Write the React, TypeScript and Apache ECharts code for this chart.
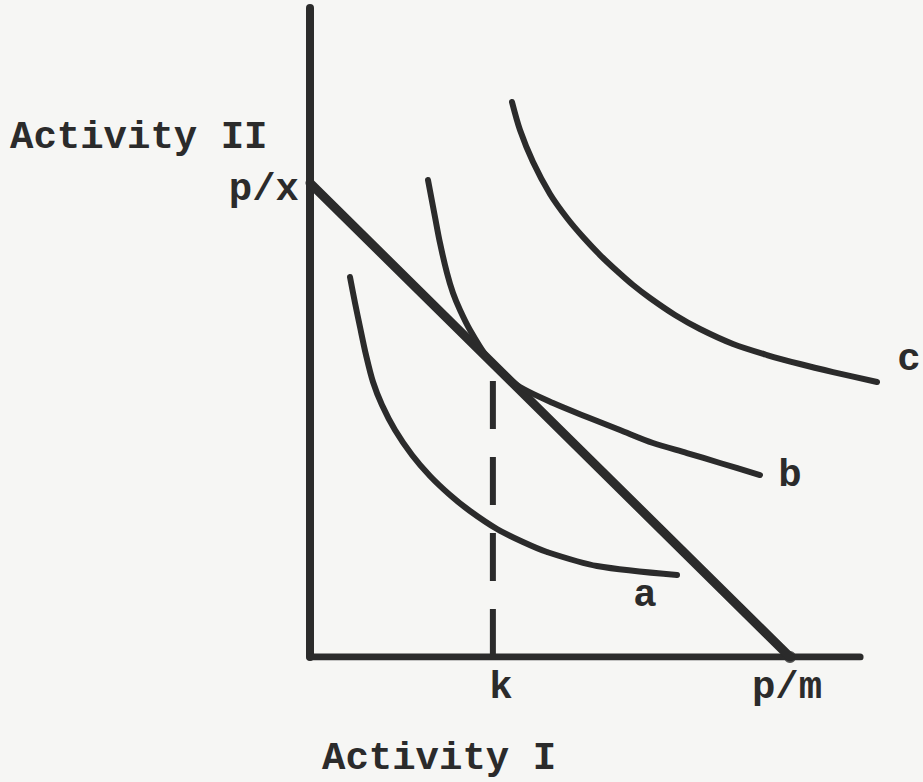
import { useEffect, useRef } from "react";
import * as echarts from "echarts";

// Diagram values in data units (origin = axes' intersection; p/m = 10 on Activity I, p/x ≈ 10.1 on Activity II)
const budgetLine: number[][] = [[0, 10.1], [10, 0]];
const curveA: number[][] = [
  [0.833, 8.097], [0.938, 7.543], [1.042, 7.032], [1.167, 6.435], [1.313, 5.86],
  [1.5, 5.37], [1.771, 4.837], [2.125, 4.304], [2.5, 3.857], [2.917, 3.452],
  [3.333, 3.111], [3.896, 2.727], [4.438, 2.45], [4.938, 2.237], [5.979, 1.939], [7.646, 1.747],
];
const curveB: number[][] = [
  [2.458, 10.164], [2.604, 9.376], [2.708, 8.822], [2.854, 8.182], [2.979, 7.756],
  [3.125, 7.394], [3.333, 6.968], [3.688, 6.392], [4.021, 6.052], [4.375, 5.753],
  [5.063, 5.412], [5.771, 5.114], [6.458, 4.837], [7.146, 4.56], [7.854, 4.347],
  [8.542, 4.134], [9.375, 3.878],
];
const curveC: number[][] = [
  [4.208, 11.826], [4.375, 11.229], [4.646, 10.547], [5.0, 9.866], [5.354, 9.354],
  [5.688, 8.949], [6.042, 8.566], [6.396, 8.225], [6.729, 7.927], [7.083, 7.65],
  [7.604, 7.288], [8.125, 6.989], [8.813, 6.67], [9.521, 6.435], [10.208, 6.243],
  [10.896, 6.072], [11.813, 5.86],
];
const kLine: number[][] = [[3.81, 0], [3.81, 6.3]];
const yAxisLine: number[][] = [[0, 0], [0, 13.83]];
const xAxisLine: number[][] = [[0, 0], [11.46, 0]];
const pmPoint: number[][] = [[10, 0]];

const curveLabels = ["a", "b", "c"];
const axisTitles = ["Activity I", "Activity II"];
const tickTexts = ["k", "p/m", "p/x"];

const INK = "#2b2b2b";
const FONT = '"Liberation Mono", "Courier New", monospace';

export default function App() {
  const ref = useRef<HTMLDivElement>(null);
  useEffect(() => {
    document.body.style.margin = "0";
    const chart = echarts.init(ref.current!, null, { renderer: "svg" });
    const line = (name: string, data: number[][], width: number, smooth: number | boolean = false) => ({
      name,
      type: "line",
      data,
      showSymbol: false,
      smooth,
      silent: true,
      lineStyle: { color: INK, width, cap: "round", join: "round" },
    });
    const txt = (text: string, x: number, y: number, align: string = "left") => ({
      type: "text",
      x,
      y,
      style: {
        text,
        fill: INK,
        font: `bold 39px ${FONT}`,
        textAlign: align,
        textVerticalAlign: "middle",
      },
    });
    chart.setOption({
      animation: false,
      backgroundColor: "#f6f6f4",
      grid: { left: 310, top: 0, width: 576, height: 657 },
      xAxis: { type: "value", min: 0, max: 12, show: false },
      yAxis: { type: "value", min: 0, max: 14, show: false },
      series: [
        line("yAxis", yAxisLine, 8),
        line("xAxis", xAxisLine, 7),
        line("budget", budgetLine, 9),
        line("a", curveA, 6, 0.3),
        line("b", curveB, 6, 0.3),
        line("c", curveC, 6, 0.3),
        {
          ...line("k", kLine, 6),
          lineStyle: { color: INK, width: 6, cap: "butt", type: [48, 28] },
        },
        {
          name: "pm",
          type: "scatter",
          data: pmPoint,
          symbolSize: 12,
          silent: true,
          itemStyle: { color: INK },
        },
      ],
      graphic: [
        txt(axisTitles[1], 10, 138),
        txt(tickTexts[2], 299, 190, "right"),
        txt(tickTexts[0], 501, 688, "center"),
        txt(tickTexts[1], 787, 688, "center"),
        txt(axisTitles[0], 322, 759),
        txt(curveLabels[0], 645, 596, "center"),
        txt(curveLabels[1], 790, 476, "center"),
        txt(curveLabels[2], 909, 360, "center"),
      ],
    });
    return () => chart.dispose();
  }, []);
  return <div ref={ref} style={{ width: 923, height: 782 }} />;
}
